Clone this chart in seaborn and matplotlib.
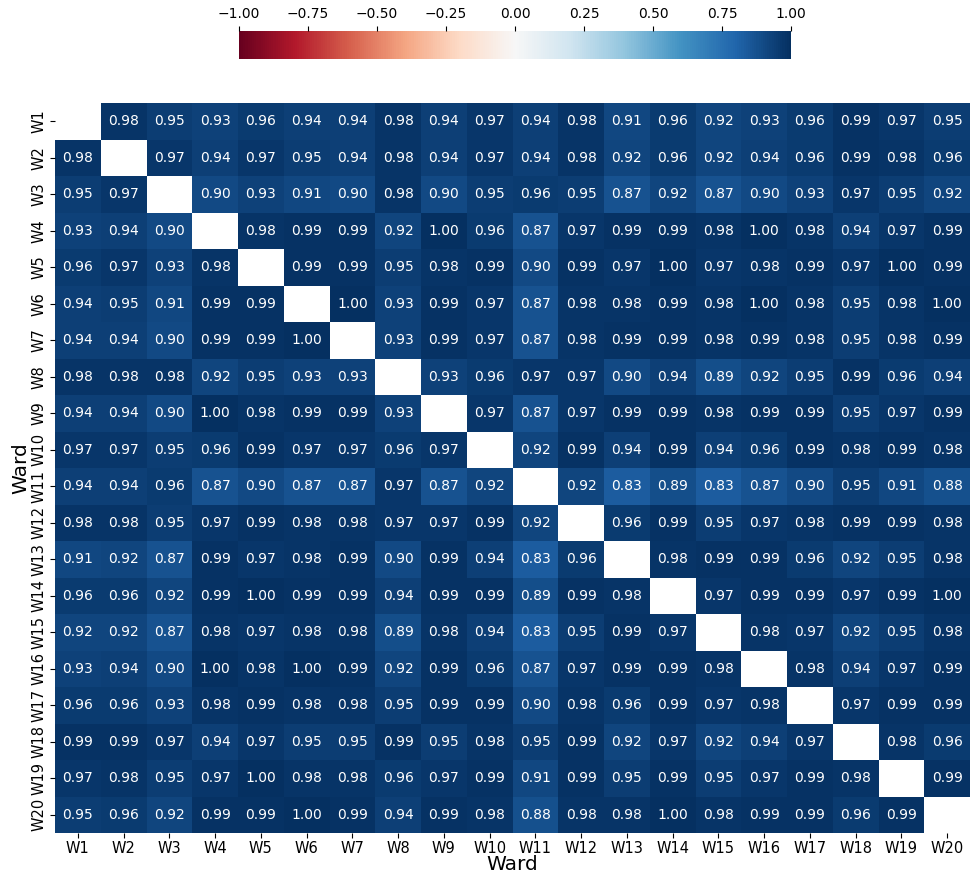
import numpy as np
import pandas as pd
import matplotlib
matplotlib.use("Agg")
import matplotlib.pyplot as plt
from matplotlib.ticker import FuncFormatter
import seaborn as sns

wards = [f"W{i}" for i in range(1, 21)]
N = None
corr_rows = [
    [N, 0.98, 0.95, 0.93, 0.96, 0.94, 0.94, 0.98, 0.94, 0.97, 0.94, 0.98, 0.91, 0.96, 0.92, 0.93, 0.96, 0.99, 0.97, 0.95],
    [0.98, N, 0.97, 0.94, 0.97, 0.95, 0.94, 0.98, 0.94, 0.97, 0.94, 0.98, 0.92, 0.96, 0.92, 0.94, 0.96, 0.99, 0.98, 0.96],
    [0.95, 0.97, N, 0.90, 0.93, 0.91, 0.90, 0.98, 0.90, 0.95, 0.96, 0.95, 0.87, 0.92, 0.87, 0.90, 0.93, 0.97, 0.95, 0.92],
    [0.93, 0.94, 0.90, N, 0.98, 0.99, 0.99, 0.92, 1.00, 0.96, 0.87, 0.97, 0.99, 0.99, 0.98, 1.00, 0.98, 0.94, 0.97, 0.99],
    [0.96, 0.97, 0.93, 0.98, N, 0.99, 0.99, 0.95, 0.98, 0.99, 0.90, 0.99, 0.97, 1.00, 0.97, 0.98, 0.99, 0.97, 1.00, 0.99],
    [0.94, 0.95, 0.91, 0.99, 0.99, N, 1.00, 0.93, 0.99, 0.97, 0.87, 0.98, 0.98, 0.99, 0.98, 1.00, 0.98, 0.95, 0.98, 1.00],
    [0.94, 0.94, 0.90, 0.99, 0.99, 1.00, N, 0.93, 0.99, 0.97, 0.87, 0.98, 0.99, 0.99, 0.98, 0.99, 0.98, 0.95, 0.98, 0.99],
    [0.98, 0.98, 0.98, 0.92, 0.95, 0.93, 0.93, N, 0.93, 0.96, 0.97, 0.97, 0.90, 0.94, 0.89, 0.92, 0.95, 0.99, 0.96, 0.94],
    [0.94, 0.94, 0.90, 1.00, 0.98, 0.99, 0.99, 0.93, N, 0.97, 0.87, 0.97, 0.99, 0.99, 0.98, 0.99, 0.99, 0.95, 0.97, 0.99],
    [0.97, 0.97, 0.95, 0.96, 0.99, 0.97, 0.97, 0.96, 0.97, N, 0.92, 0.99, 0.94, 0.99, 0.94, 0.96, 0.99, 0.98, 0.99, 0.98],
    [0.94, 0.94, 0.96, 0.87, 0.90, 0.87, 0.87, 0.97, 0.87, 0.92, N, 0.92, 0.83, 0.89, 0.83, 0.87, 0.90, 0.95, 0.91, 0.88],
    [0.98, 0.98, 0.95, 0.97, 0.99, 0.98, 0.98, 0.97, 0.97, 0.99, 0.92, N, 0.96, 0.99, 0.95, 0.97, 0.98, 0.99, 0.99, 0.98],
    [0.91, 0.92, 0.87, 0.99, 0.97, 0.98, 0.99, 0.90, 0.99, 0.94, 0.83, 0.96, N, 0.98, 0.99, 0.99, 0.96, 0.92, 0.95, 0.98],
    [0.96, 0.96, 0.92, 0.99, 1.00, 0.99, 0.99, 0.94, 0.99, 0.99, 0.89, 0.99, 0.98, N, 0.97, 0.99, 0.99, 0.97, 0.99, 1.00],
    [0.92, 0.92, 0.87, 0.98, 0.97, 0.98, 0.98, 0.89, 0.98, 0.94, 0.83, 0.95, 0.99, 0.97, N, 0.98, 0.97, 0.92, 0.95, 0.98],
    [0.93, 0.94, 0.90, 1.00, 0.98, 1.00, 0.99, 0.92, 0.99, 0.96, 0.87, 0.97, 0.99, 0.99, 0.98, N, 0.98, 0.94, 0.97, 0.99],
    [0.96, 0.96, 0.93, 0.98, 0.99, 0.98, 0.98, 0.95, 0.99, 0.99, 0.90, 0.98, 0.96, 0.99, 0.97, 0.98, N, 0.97, 0.99, 0.99],
    [0.99, 0.99, 0.97, 0.94, 0.97, 0.95, 0.95, 0.99, 0.95, 0.98, 0.95, 0.99, 0.92, 0.97, 0.92, 0.94, 0.97, N, 0.98, 0.96],
    [0.97, 0.98, 0.95, 0.97, 1.00, 0.98, 0.98, 0.96, 0.97, 0.99, 0.91, 0.99, 0.95, 0.99, 0.95, 0.97, 0.99, 0.98, N, 0.99],
    [0.95, 0.96, 0.92, 0.99, 0.99, 1.00, 0.99, 0.94, 0.99, 0.98, 0.88, 0.98, 0.98, 1.00, 0.98, 0.99, 0.99, 0.96, 0.99, N],
]
cbar_ticks = [-1.00, -0.75, -0.50, -0.25, 0.00, 0.25, 0.50, 0.75, 1.00]

df = pd.DataFrame([[np.nan if v is None else v for v in r] for r in corr_rows],
                  index=wards, columns=wards)
mask = df.isna()

W, H = 978, 874
fig = plt.figure(figsize=(W / 100, H / 100), dpi=100)
ax = fig.add_axes([55 / W, (H - 833) / H, 915 / W, 730 / H])
cax = fig.add_axes([239 / W, (H - 59) / H, 552 / W, 28 / H])

fmt = FuncFormatter(lambda x, pos: f"{x:.2f}".replace("-", "\u2212"))
sns.heatmap(df, mask=mask, cmap="RdBu", vmin=-1, vmax=1, annot=True, fmt=".2f",
            annot_kws={"fontsize": 10}, ax=ax, cbar_ax=cax,
            cbar_kws={"orientation": "horizontal", "ticks": cbar_ticks, "format": fmt})
cax.xaxis.set_ticks_position("top")
cax.tick_params(labelsize=10)
ax.tick_params(axis="both", labelsize=10.5, pad=2.5)
ax.set_yticklabels(wards, rotation=90, va="center")
ax.set_xticklabels(wards, rotation=0)
ax.set_xlabel("Ward", fontsize=14.5, labelpad=-1)
ax.set_ylabel("Ward", fontsize=14.5, labelpad=1)

fig.savefig("out.png", dpi=100)
